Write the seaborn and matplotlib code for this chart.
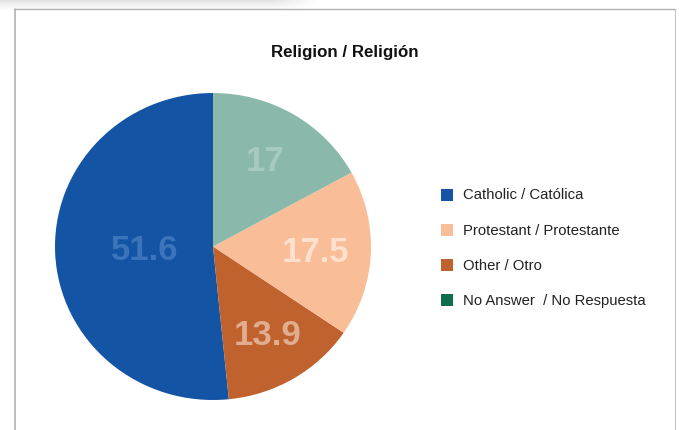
import numpy as np
import matplotlib
matplotlib.use("Agg")
import matplotlib.pyplot as plt
from matplotlib.patches import Rectangle
from matplotlib.lines import Line2D
import seaborn as sns

# Survey data: religion of respondents (%)
categories = ["Catholic / Católica", "Protestant / Protestante",
              "Other / Otro", "No Answer  / No Respuesta"]
values = [51.6, 17.5, 13.9, 17.0]
value_labels = ["51.6", "17.5", "13.9", "17"]

legend_colors = ["#1454a5", "#f9bd97", "#c0622e", "#0e6e50"]
slice_colors = ["#1454a5", "#f9bd97", "#c0622e", "#8ab8ab"]
label_colors = ["#3c74ba", "#fde0ce", "#e0ae8f", "#a5cbc0"]

# counter-clockwise drawing order starting at 12 o'clock
draw_order = [0, 2, 1, 3]

sns.set_theme(style="white")
plt.rcParams["font.family"] = ["Liberation Sans", "DejaVu Sans"]

W, H = 679, 431
fig = plt.figure(figsize=(W / 100, H / 100), dpi=100)
fig.patch.set_facecolor("white")

# soft shadow strip above the panel
ys = np.linspace(0, 1, 12)[:, None]
xs = np.linspace(0, 1, 320)[None, :]
shade = 0.88 + 0.12 * ys ** 0.9
fade = np.clip((xs - 0.86) / 0.14, 0, 1)
shadow = shade * (1 - fade) + fade
sax = fig.add_axes([0, 1 - 12 / H, 320 / W, 12 / H])
sax.imshow(shadow, cmap="gray", vmin=0, vmax=1, aspect="auto",
           interpolation="bilinear")
sax.axis("off")

# panel border (open at the bottom)
x0, x1, yt = 14.5 / W, 674.5 / W, 1 - 9.5 / H
fig.add_artist(Line2D([x0, x0], [0, yt], color="#b4b2ae", lw=1.2,
                      transform=fig.transFigure))
fig.add_artist(Line2D([x0, x1], [yt, yt], color="#b4b2ae", lw=1.0,
                      transform=fig.transFigure))
fig.add_artist(Line2D([x1, x1], [0, yt], color="#c4c4c4", lw=0.8,
                      transform=fig.transFigure))

fig.text(344.5 / W, 1 - 53 / H, "Religion / Religión", ha="center",
         va="center", fontsize=12.2, fontweight="bold", color="#111111")

# pie
ax = fig.add_axes([55 / W, 1 - 401 / H, 316 / W, 307 / H])
vals = [values[i] for i in draw_order]
cols = [slice_colors[i] for i in draw_order]
wedges, _ = ax.pie(vals, colors=cols, startangle=90, counterclock=True,
                   wedgeprops=dict(linewidth=0))
ax.set_aspect("auto")
ax.set_xlim(-1, 1)
ax.set_ylim(-1, 1)
ax.axis("off")

label_dist = {0: 0.43, 1: 0.65, 2: 0.67, 3: 0.65}
for w, i in zip(wedges, draw_order):
    mid = np.deg2rad((w.theta1 + w.theta2) / 2)
    d = label_dist[i]
    ax.text(d * np.cos(mid), d * np.sin(mid), value_labels[i],
            ha="center", va="center", fontsize=25, fontweight="bold",
            color=label_colors[i])

# legend
for k, (name, c) in enumerate(zip(categories, legend_colors)):
    yc = 195.5 + k * 35.2
    fig.add_artist(Rectangle((441 / W, 1 - (yc + 6) / H), 12 / W, 12 / H,
                             transform=fig.transFigure, facecolor=c,
                             edgecolor="none"))
    fig.text(463 / W, 1 - yc / H, name, ha="left", va="center",
             fontsize=10.7, color="#222222")

fig.savefig("out.png", dpi=100)
